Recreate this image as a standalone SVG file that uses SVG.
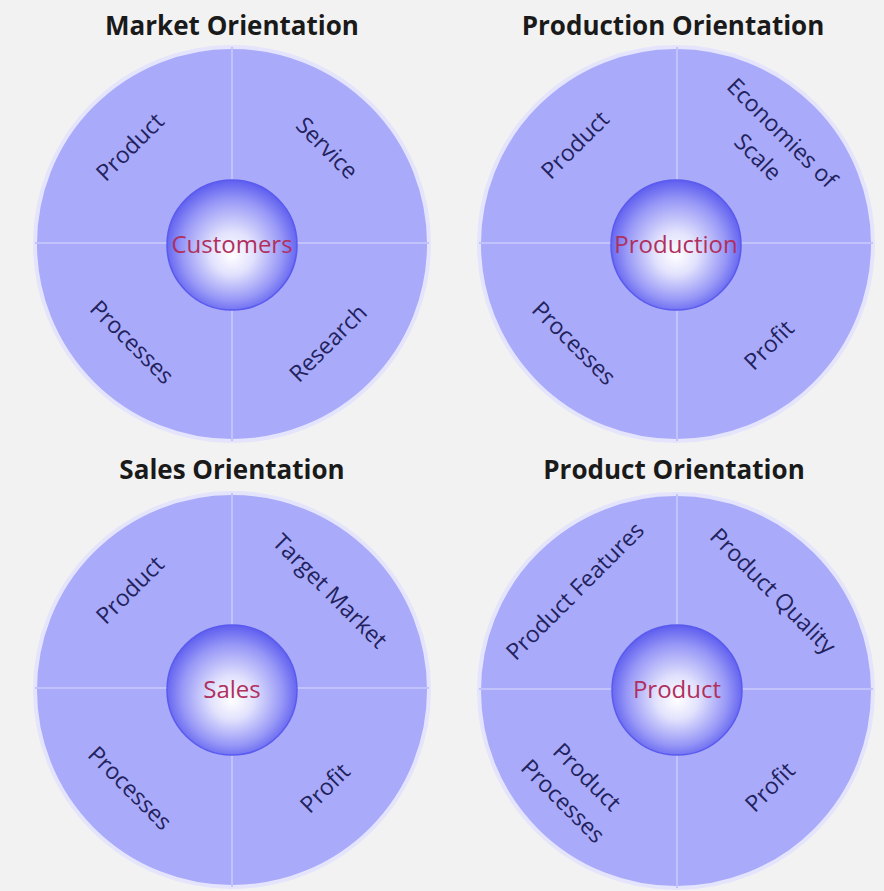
<svg xmlns="http://www.w3.org/2000/svg" width="884" height="891" viewBox="0 0 884 891">
  <defs>
    <radialGradient id="sphere" cx="50%" cy="52%" r="55%" fx="50%" fy="58%">
      <stop offset="0" stop-color="#ffffff"/>
      <stop offset="0.3" stop-color="#e2e2fd"/>
      <stop offset="0.7" stop-color="#9898f7"/>
      <stop offset="1" stop-color="#5252ee"/>
    </radialGradient>
    <style>
      .bg { fill: #f2f2f2; }
      .outer { fill: #a9aaf9; stroke: #e4e4fc; stroke-width: 4; }
      .cross { stroke: #c2c3fc; stroke-width: 2; fill: none; }
      .inner { fill: url(#sphere); stroke: #5a5aee; stroke-width: 1.5; }
      .title { font-family: "Open Sans", "Liberation Sans", sans-serif; font-weight: bold; font-size: 26px; fill: #1a1a1a; text-anchor: middle; }
      .lbl { font-family: "Open Sans", "Liberation Sans", sans-serif; font-size: 23px; fill: #22225e; text-anchor: middle; }
      .ctr { font-family: "Open Sans", "Liberation Sans", sans-serif; font-size: 24px; fill: #b0305e; text-anchor: middle; }
    </style>
  </defs>
  <rect class="bg" x="0" y="0" width="884" height="891"/>

  <g id="market">
    <text class="title" x="232" y="35">Market Orientation</text>
    <circle class="outer" cx="232" cy="244" r="197"/>
    <path class="cross" d="M232 47 V441 M35 243 H429"/>
    <circle class="inner" cx="232" cy="245" r="65"/>
    <text class="ctr" x="232" y="253">Customers</text>
    <text class="lbl" transform="translate(130,147) rotate(-45)" dy="8">Product</text>
    <text class="lbl" transform="translate(327,148) rotate(45)" dy="8">Service</text>
    <text class="lbl" transform="translate(132,342) rotate(45)" dy="8">Processes</text>
    <text class="lbl" transform="translate(328,343) rotate(-45)" dy="8">Research</text>
  </g>

  <g id="production">
    <text class="title" x="673" y="35">Production Orientation</text>
    <circle class="outer" cx="676" cy="244" r="197"/>
    <path class="cross" d="M677 47 V441 M479 243 H873"/>
    <circle class="inner" cx="676" cy="245" r="65"/>
    <text class="ctr" x="676" y="253">Production</text>
    <text class="lbl" transform="translate(575,145) rotate(-45)" dy="8">Product</text>
    <text class="lbl" transform="translate(770,145) rotate(45)"><tspan x="0" dy="-9">Economies of</tspan><tspan x="0" dy="34">Scale</tspan></text>
    <text class="lbl" transform="translate(574,343) rotate(45)" dy="8">Processes</text>
    <text class="lbl" transform="translate(769,345) rotate(-45)" dy="8">Profit</text>
  </g>

  <g id="sales">
    <text class="title" x="232" y="479">Sales Orientation</text>
    <circle class="outer" cx="232" cy="690" r="197"/>
    <path class="cross" d="M232 493 V887 M35 688 H429"/>
    <circle class="inner" cx="232" cy="690" r="65"/>
    <text class="ctr" x="232" y="698">Sales</text>
    <text class="lbl" transform="translate(130,590) rotate(-45)" dy="8">Product</text>
    <text class="lbl" transform="translate(330,591) rotate(45)" dy="8">Target Market</text>
    <text class="lbl" transform="translate(130,788) rotate(45)" dy="8">Processes</text>
    <text class="lbl" transform="translate(325,788) rotate(-45)" dy="8">Profit</text>
  </g>

  <g id="product">
    <text class="title" x="674" y="479">Product Orientation</text>
    <circle class="outer" cx="676" cy="691" r="197"/>
    <path class="cross" d="M677 494 V888 M479 689 H873"/>
    <circle class="inner" cx="677" cy="690" r="65"/>
    <text class="ctr" x="677" y="698">Product</text>
    <text class="lbl" transform="translate(575,591) rotate(-45)" dy="8">Product Features</text>
    <text class="lbl" transform="translate(773,591) rotate(45)" dy="8">Product Quality</text>
    <text class="lbl" transform="translate(575,789) rotate(45)"><tspan x="0" dy="-9">Product</tspan><tspan x="0" dy="34">Processes</tspan></text>
    <text class="lbl" transform="translate(770,787) rotate(-45)" dy="8">Profit</text>
  </g>
</svg>
